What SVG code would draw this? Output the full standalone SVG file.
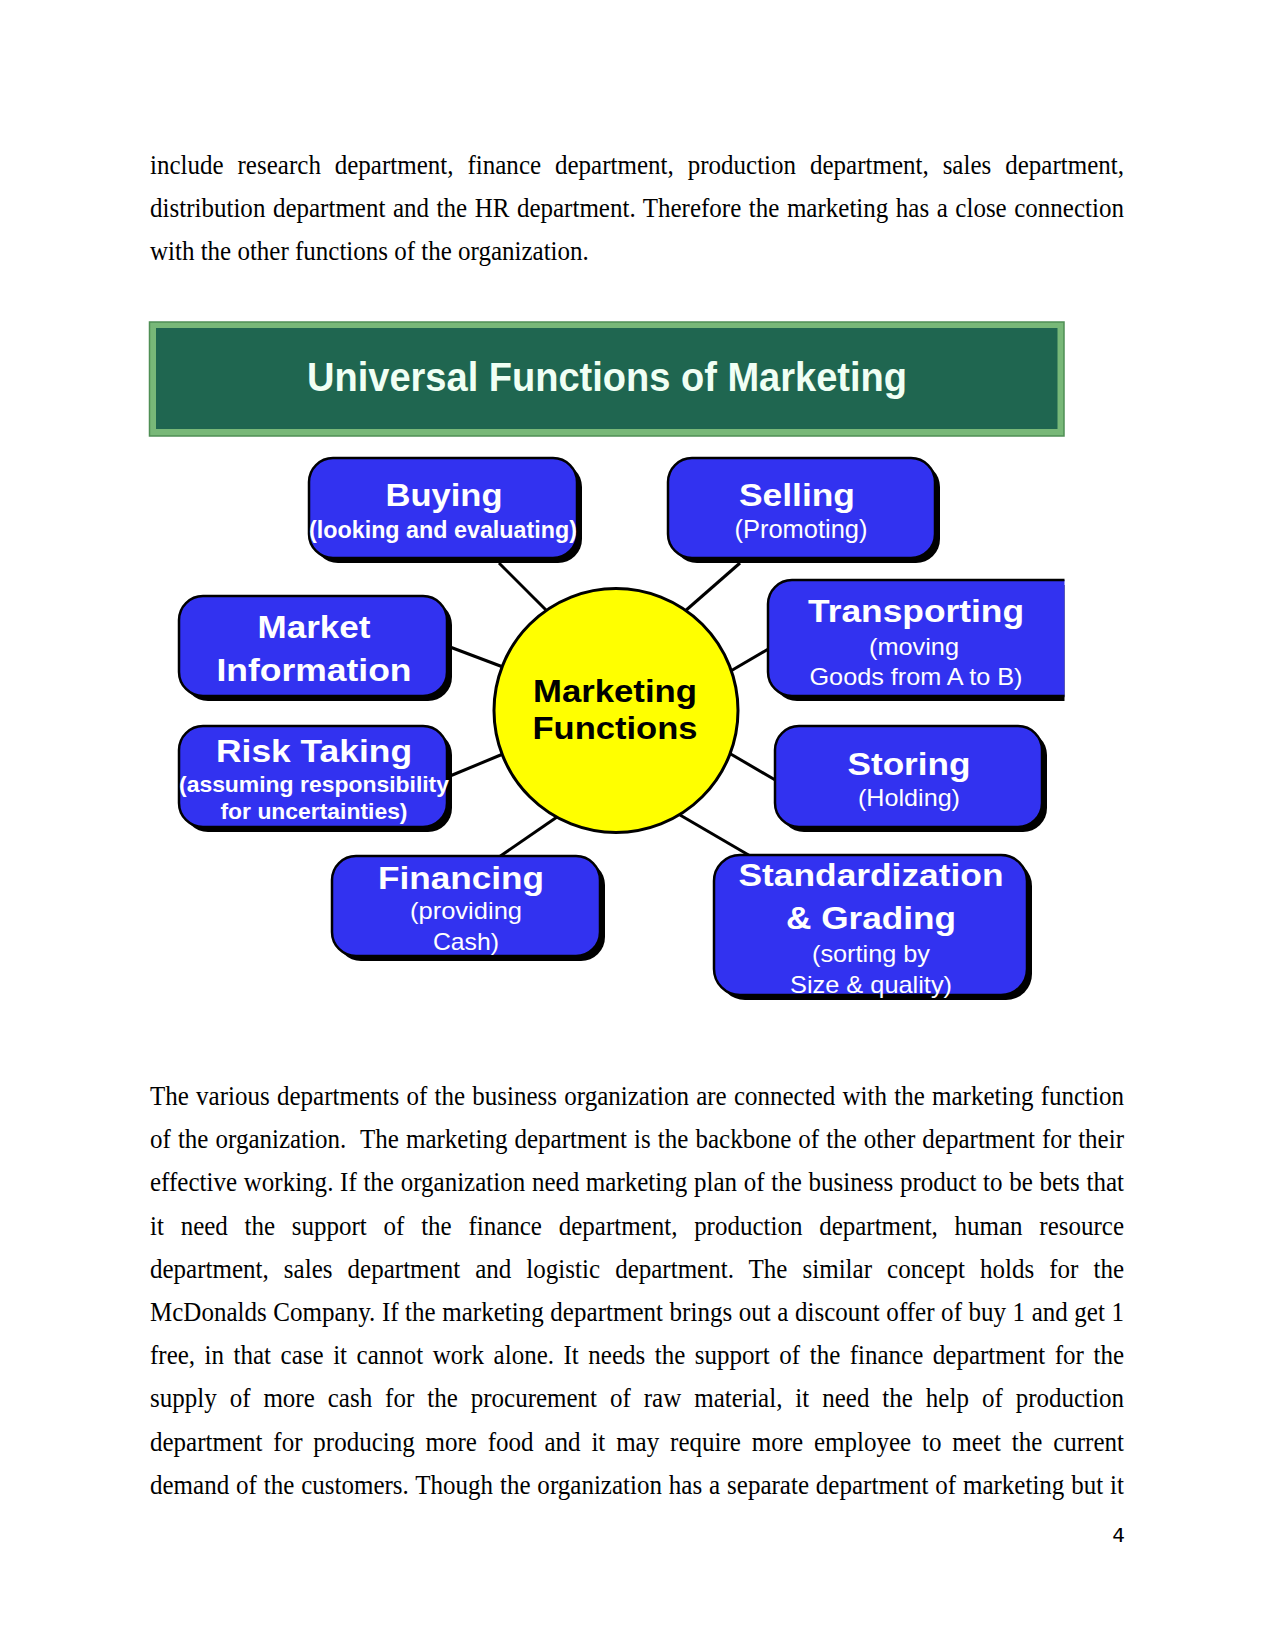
<svg xmlns="http://www.w3.org/2000/svg" width="1275" height="1651" viewBox="0 0 1275 1651">
<defs>
<style>
.p{font-family:"Liberation Serif","Times New Roman",serif;font-size:25px;fill:#000}
.box{fill:#3232f0;stroke:#000;stroke-width:2.5}
.sh{fill:#000}
.h{font-family:"Liberation Sans",Arial,sans-serif;font-weight:bold;fill:#fff;text-anchor:middle}
.s{font-family:"Liberation Sans",Arial,sans-serif;fill:#fff;text-anchor:middle}
.ln{stroke:#000;stroke-width:3;fill:none}
</style>
<clipPath id="clipR"><rect x="0" y="0" width="1064.5" height="1651"/></clipPath>
</defs>
<rect x="0" y="0" width="1275" height="1651" fill="#fff"/>

<g id="para1" transform="scale(1,1.1)">
<text class="p" x="150" y="158.18" word-spacing="7.6" textLength="974" lengthAdjust="spacing">include research department, finance department, production department, sales department,</text>
<text class="p" x="150" y="197.27" word-spacing="1.25" textLength="974" lengthAdjust="spacing">distribution department and the HR department. Therefore the marketing has a close connection</text>
<text class="p" x="150" y="236.36">with the other functions of the organization.</text>
</g>

<g id="title">
<rect x="149.5" y="322" width="914.5" height="114" fill="#78b878" stroke="#4f8f55" stroke-width="1.5"/>
<rect x="156" y="328" width="901.5" height="101" fill="#1f6650"/>
<text class="h" x="607" y="391" font-size="41" textLength="600" lengthAdjust="spacingAndGlyphs" style="fill:#f0fff4">Universal Functions of Marketing</text>
</g>

<g id="connectors">
<line class="ln" x1="499" y1="563" x2="548" y2="612"/>
<line class="ln" x1="740" y1="563" x2="684" y2="612"/>
<line class="ln" x1="450" y1="647" x2="503" y2="667"/>
<line class="ln" x1="770" y1="648" x2="729" y2="672"/>
<line class="ln" x1="450" y1="776" x2="503" y2="754"/>
<line class="ln" x1="777" y1="781" x2="729" y2="753"/>
<line class="ln" x1="499" y1="857" x2="557" y2="817"/>
<line class="ln" x1="752" y1="857" x2="680" y2="815"/>
</g>

<g id="center">
<circle cx="616" cy="710.5" r="122" fill="#ffff00" stroke="#000" stroke-width="3"/>
<text class="h" x="615" y="702" font-size="31" textLength="164" lengthAdjust="spacingAndGlyphs" style="fill:#000">Marketing</text>
<text class="h" x="615" y="739" font-size="31" textLength="165" lengthAdjust="spacingAndGlyphs" style="fill:#000">Functions</text>
</g>

<g id="buying">
<rect class="sh" x="314" y="463" width="268" height="100" rx="24"/>
<rect class="box" x="309" y="458" width="268" height="100" rx="24"/>
<text class="h" x="444" y="506" font-size="31" textLength="117" lengthAdjust="spacingAndGlyphs">Buying</text>
<text class="h" x="443" y="538" font-size="23" textLength="268" lengthAdjust="spacingAndGlyphs">(looking and evaluating)</text>
</g>

<g id="selling">
<rect class="sh" x="673" y="463" width="267" height="100" rx="24"/>
<rect class="box" x="668" y="458" width="267" height="100" rx="24"/>
<text class="h" x="797" y="506" font-size="31" textLength="116" lengthAdjust="spacingAndGlyphs">Selling</text>
<text class="s" x="801" y="538" font-size="25" textLength="133" lengthAdjust="spacingAndGlyphs">(Promoting)</text>
</g>

<g id="market-information">
<rect class="sh" x="184" y="601" width="268" height="100" rx="24"/>
<rect class="box" x="179" y="596" width="268" height="100" rx="24"/>
<text class="h" x="314" y="638" font-size="32" textLength="113" lengthAdjust="spacingAndGlyphs">Market</text>
<text class="h" x="314" y="681" font-size="32" textLength="195" lengthAdjust="spacingAndGlyphs">Information</text>
</g>

<g id="transporting" clip-path="url(#clipR)">
<rect class="sh" x="773" y="585" width="320" height="116" rx="24"/>
<rect class="box" x="768" y="580" width="320" height="116" rx="24"/>
<text class="h" x="916" y="622" font-size="32" textLength="216" lengthAdjust="spacingAndGlyphs">Transporting</text>
<text class="s" x="914" y="655" font-size="24" textLength="90" lengthAdjust="spacingAndGlyphs">(moving</text>
<text class="s" x="916" y="685" font-size="24" textLength="213" lengthAdjust="spacingAndGlyphs">Goods from A to B)</text>
</g>

<g id="risk-taking">
<rect class="sh" x="184" y="731" width="268" height="101" rx="24"/>
<rect class="box" x="179" y="726" width="268" height="101" rx="24"/>
<text class="h" x="314" y="762" font-size="32" textLength="196" lengthAdjust="spacingAndGlyphs">Risk Taking</text>
<text class="h" x="314" y="792" font-size="22" textLength="270" lengthAdjust="spacingAndGlyphs">(assuming responsibility</text>
<text class="h" x="314" y="819" font-size="22" textLength="187" lengthAdjust="spacingAndGlyphs">for uncertainties)</text>
</g>

<g id="storing">
<rect class="sh" x="780" y="731" width="267" height="101" rx="24"/>
<rect class="box" x="775" y="726" width="267" height="101" rx="24"/>
<text class="h" x="909" y="775" font-size="32" textLength="123" lengthAdjust="spacingAndGlyphs">Storing</text>
<text class="s" x="909" y="806" font-size="24" textLength="102" lengthAdjust="spacingAndGlyphs">(Holding)</text>
</g>

<g id="financing">
<rect class="sh" x="337" y="861" width="268" height="100" rx="24"/>
<rect class="box" x="332" y="856" width="268" height="100" rx="24"/>
<text class="h" x="461" y="889" font-size="32" textLength="166" lengthAdjust="spacingAndGlyphs">Financing</text>
<text class="s" x="466" y="919" font-size="24" textLength="112" lengthAdjust="spacingAndGlyphs">(providing</text>
<text class="s" x="466" y="950" font-size="24" textLength="66" lengthAdjust="spacingAndGlyphs">Cash)</text>
</g>

<g id="standardization-grading">
<rect class="sh" x="719" y="860" width="313" height="140" rx="26"/>
<rect class="box" x="714" y="855" width="313" height="140" rx="26"/>
<text class="h" x="871" y="886" font-size="32" textLength="265" lengthAdjust="spacingAndGlyphs">Standardization</text>
<text class="h" x="871" y="929" font-size="32" textLength="170" lengthAdjust="spacingAndGlyphs">&amp; Grading</text>
<text class="s" x="871" y="962" font-size="24" textLength="118" lengthAdjust="spacingAndGlyphs">(sorting by</text>
<text class="s" x="871" y="993" font-size="24" textLength="162" lengthAdjust="spacingAndGlyphs">Size &amp; quality)</text>
</g>

<g id="para2" transform="scale(1,1.1)">
<text class="p" x="150" y="1004.55" word-spacing="1.0" textLength="974" lengthAdjust="spacing">The various departments of the business organization are connected with the marketing function</text>
<text class="p" x="150" y="1043.82" word-spacing="0.8" textLength="974" lengthAdjust="spacing">of the organization.&#160; The marketing department is the backbone of the other department for their</text>
<text class="p" x="150" y="1083.09" word-spacing="0.4" textLength="974" lengthAdjust="spacing">effective working. If the organization need marketing plan of the business product to be bets that</text>
<text class="p" x="150" y="1122.36" word-spacing="10.5" textLength="974" lengthAdjust="spacing">it need the support of the finance department, production department, human resource</text>
<text class="p" x="150" y="1161.64" word-spacing="8.8" textLength="974" lengthAdjust="spacing">department, sales department and logistic department. The similar concept holds for the</text>
<text class="p" x="150" y="1200.91" word-spacing="0.25" textLength="974" lengthAdjust="spacing">McDonalds Company. If the marketing department brings out a discount offer of buy 1 and get 1</text>
<text class="p" x="150" y="1240.18" word-spacing="3.3" textLength="974" lengthAdjust="spacing">free, in that case it cannot work alone. It needs the support of the finance department for the</text>
<text class="p" x="150" y="1279.45" word-spacing="6.7" textLength="974" lengthAdjust="spacing">supply of more cash for the procurement of raw material, it need the help of production</text>
<text class="p" x="150" y="1318.73" word-spacing="4.6" textLength="974" lengthAdjust="spacing">department for producing more food and it may require more employee to meet the current</text>
<text class="p" x="150" y="1358" word-spacing="0.6" textLength="974" lengthAdjust="spacing">demand of the customers. Though the organization has a separate department of marketing but it</text>
</g>

<text x="1125" y="1542" font-family="DejaVu Sans, sans-serif" font-size="20" text-anchor="end" fill="#000">4</text>
</svg>
